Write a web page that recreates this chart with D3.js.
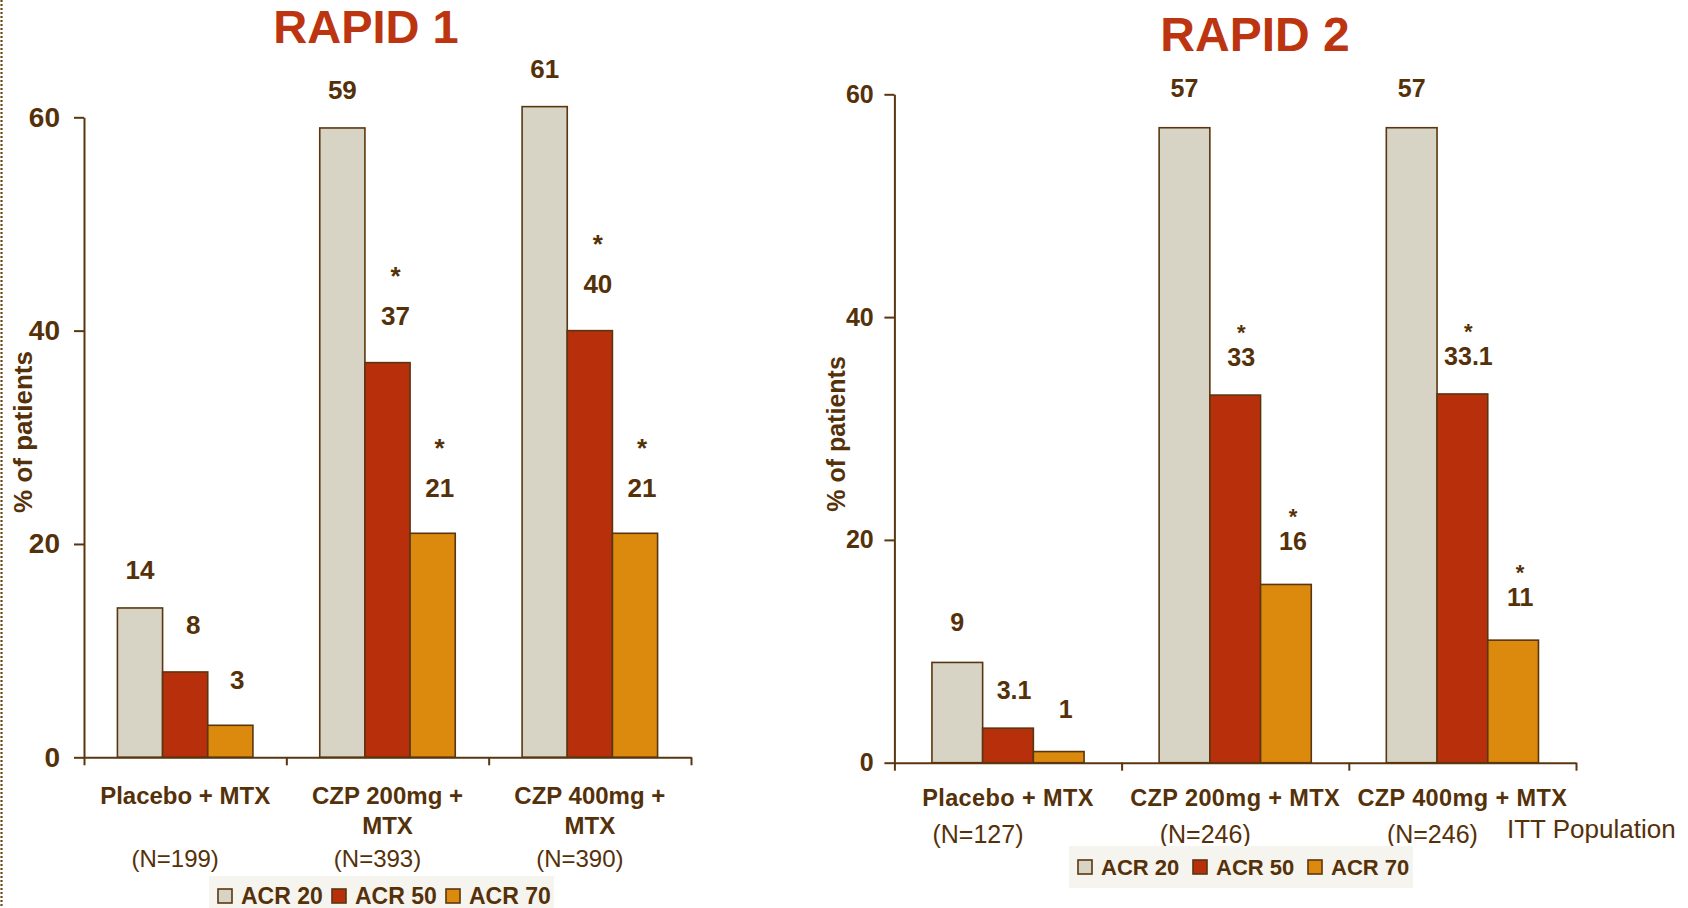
<!DOCTYPE html>
<html>
<head>
<meta charset="utf-8">
<script src="https://cdn.jsdelivr.net/npm/d3@7/dist/d3.min.js"></script>
<style>
  html, body { margin: 0; padding: 0; background: #ffffff; }
  svg { display: block; font-family: "Liberation Sans", Arial, sans-serif; }
</style>
</head>
<body>
<svg id="chart" width="1688" height="908"></svg>
<script>
// ---- data -------------------------------------------------------------
const series = ["ACR 20", "ACR 50", "ACR 70"];
const yTicks = [0, 20, 40, 60];

const rapid1Groups = ["Placebo + MTX", "CZP 200mg + MTX", "CZP 400mg + MTX"];
const rapid1GroupLines = [["Placebo + MTX"], ["CZP 200mg +", "MTX"], ["CZP 400mg +", "MTX"]];
const rapid1N = ["(N=199)", "(N=393)", "(N=390)"];
const rapid1ACR20 = [14, 59, 61];
const rapid1ACR50 = [8, 37, 40];
const rapid1ACR70 = [3, 21, 21];
const rapid1Sig50 = [false, true, true];
const rapid1Sig70 = [false, true, true];

const rapid2Groups = ["Placebo + MTX", "CZP 200mg + MTX", "CZP 400mg + MTX"];
const rapid2GroupLines = [["Placebo + MTX"], ["CZP 200mg + MTX"], ["CZP 400mg + MTX"]];
const rapid2N = ["(N=127)", "(N=246)", "(N=246)"];
const rapid2ACR20 = [9, 57, 57];
const rapid2ACR50 = [3.1, 33, 33.1];
const rapid2ACR70 = [1, 16, 11];
const rapid2Sig50 = [false, true, true];
const rapid2Sig70 = [false, true, true];

// ---- styling ----------------------------------------------------------
const TEXT = "#55310a";
const AXIS = "#5a3610";
const TITLE = "#bd3510";
const FILL = { "ACR 20": "#d7d3c5", "ACR 50": "#b8300b", "ACR 70": "#dc8a0e" };

const svg = d3.select("#chart");

// dotted rule along the left edge
svg.append("line")
  .attr("x1", 1.5).attr("x2", 1.5).attr("y1", 0).attr("y2", 908)
  .attr("stroke", "#6e4a1c").attr("stroke-width", 2.2)
  .attr("stroke-dasharray", "2,2");

function buildRows(groups, a20, a50, a70, s50, s70) {
  return groups.map((g, i) => ({
    group: g,
    bars: [
      { key: "ACR 20", value: a20[i], sig: false },
      { key: "ACR 50", value: a50[i], sig: s50[i] },
      { key: "ACR 70", value: a70[i], sig: s70[i] }
    ]
  }));
}

function drawChart(cfg) {
  const g = svg.append("g");

  const y = d3.scaleLinear().domain([0, 60]).range([cfg.y0, cfg.y60]);
  const x = d3.scaleBand().domain(cfg.groups).range([cfg.xLeft, cfg.xRight]).padding(0);
  const xs = d3.scaleBand().domain(series).range([0, x.bandwidth()])
    .paddingInner(0).paddingOuter(cfg.outerPad);

  // title
  g.append("text")
    .attr("x", cfg.titleX).attr("y", cfg.titleY)
    .attr("text-anchor", "middle")
    .attr("font-size", cfg.titleSize).attr("font-weight", "bold")
    .attr("fill", TITLE)
    .text(cfg.title);

  // bars
  const groupSel = g.selectAll("g.grp").data(cfg.rows).join("g")
    .attr("class", "grp")
    .attr("transform", d => `translate(${x(d.group)},0)`);

  groupSel.selectAll("rect").data(d => d.bars).join("rect")
    .attr("x", d => xs(d.key))
    .attr("width", xs.bandwidth())
    .attr("y", d => y(d.value))
    .attr("height", d => y(0) - y(d.value))
    .attr("fill", d => FILL[d.key])
    .attr("stroke", AXIS)
    .attr("stroke-width", 1.6);

  // value labels and significance marks
  const labelSel = groupSel.selectAll("g.lbl").data(d => d.bars).join("g")
    .attr("class", "lbl")
    .attr("transform", (d, i) =>
      `translate(${xs(d.key) + xs.bandwidth() / 2 + cfg.labelDx[i]},${y(d.value) - cfg.labelOff[i]})`);

  labelSel.append("text")
    .attr("text-anchor", "middle")
    .attr("font-size", cfg.valueSize).attr("font-weight", "bold")
    .attr("fill", TEXT)
    .text(d => String(d.value));

  labelSel.filter(d => d.sig).append("text")
    .attr("y", -cfg.starGap)
    .attr("text-anchor", "middle")
    .attr("font-size", cfg.starSize).attr("font-weight", "bold")
    .attr("fill", TEXT)
    .text("*");

  // y axis
  const yAxis = g.append("g")
    .attr("transform", `translate(${cfg.xLeft},0)`)
    .call(d3.axisLeft(y).tickValues(yTicks).tickSize(10).tickSizeOuter(0).tickPadding(cfg.tickPad));
  yAxis.select(".domain").attr("stroke", AXIS).attr("stroke-width", 2);
  yAxis.selectAll(".tick line").attr("stroke", AXIS).attr("stroke-width", 2);
  yAxis.selectAll(".tick text")
    .attr("font-size", cfg.tickSize).attr("font-weight", "bold")
    .attr("font-family", "Liberation Sans, Arial, sans-serif")
    .attr("fill", TEXT);

  // x axis with ticks at category boundaries
  const xb = d3.scaleLinear().domain([0, cfg.groups.length]).range([cfg.xLeft, cfg.xRight]);
  const xAxis = g.append("g")
    .attr("transform", `translate(0,${cfg.y0})`)
    .call(d3.axisBottom(xb).tickValues(d3.range(cfg.groups.length + 1))
      .tickSize(8).tickSizeOuter(0).tickFormat(""));
  xAxis.select(".domain").attr("stroke", AXIS).attr("stroke-width", 2);
  xAxis.selectAll(".tick line").attr("stroke", AXIS).attr("stroke-width", 2);

  // category labels
  cfg.groups.forEach((grp, i) => {
    const cx = x(grp) + x.bandwidth() / 2;
    cfg.groupLines[i].forEach((line, j) => {
      g.append("text")
        .attr("x", cx).attr("y", cfg.catY + j * cfg.catLine)
        .attr("text-anchor", "middle")
        .attr("font-size", cfg.catSize).attr("font-weight", "bold")
        .attr("letter-spacing", cfg.catSpacing)
        .attr("fill", TEXT)
        .text(line);
    });
    g.append("text")
      .attr("x", cx + cfg.nDx).attr("y", cfg.nY)
      .attr("text-anchor", "middle")
      .attr("font-size", cfg.nSize)
      .attr("fill", TEXT)
      .text(cfg.nLabels[i]);
  });

  // y axis title
  g.append("text")
    .attr("transform", `translate(${cfg.yTitleX},${cfg.yTitleY}) rotate(-90)`)
    .attr("text-anchor", "middle")
    .attr("font-size", cfg.yTitleSize).attr("font-weight", "bold")
    .attr("fill", TEXT)
    .text("% of patients");

  // legend
  const lg = g.append("g").attr("transform", `translate(${cfg.legX},${cfg.legY})`);
  lg.append("rect")
    .attr("x", 0).attr("y", 0)
    .attr("width", cfg.legW).attr("height", cfg.legH)
    .attr("fill", "#f6f4ef");
  const item = lg.selectAll("g.item").data(series).join("g")
    .attr("class", "item")
    .attr("transform", (d, i) => `translate(${cfg.legPad + i * cfg.legStep},${cfg.legSqY})`);
  item.append("rect")
    .attr("width", 14).attr("height", 14)
    .attr("fill", d => FILL[d])
    .attr("stroke", AXIS).attr("stroke-width", 1.6);
  item.append("text")
    .attr("x", 23).attr("y", 15)
    .attr("font-size", cfg.legSize).attr("font-weight", "bold")
    .attr("fill", TEXT)
    .text(d => d);

  return g;
}

drawChart({
  title: "RAPID 1", titleX: 366, titleY: 43, titleSize: 47,
  groups: rapid1Groups, groupLines: rapid1GroupLines, nLabels: rapid1N,
  rows: buildRows(rapid1Groups, rapid1ACR20, rapid1ACR50, rapid1ACR70, rapid1Sig50, rapid1Sig70),
  xLeft: 84, xRight: 691, y0: 757.3, y60: 117.3, outerPad: 0.74,
  tickSize: 28, tickPad: 14,
  valueSize: 26, labelOff: [29, 38, 36], labelDx: [0, 8, 7], starGap: 40, starSize: 26,
  catSize: 24, catY: 804, catLine: 30, catSpacing: 0,
  nSize: 24, nY: 867, nDx: -10,
  yTitleX: 32, yTitleY: 432, yTitleSize: 26,
  legX: 209, legY: 876, legW: 345, legH: 40, legPad: 9, legStep: 114, legSqY: 13, legSize: 23
});

const right = drawChart({
  title: "RAPID 2", titleX: 1255, titleY: 51, titleSize: 48,
  groups: rapid2Groups, groupLines: rapid2GroupLines, nLabels: rapid2N,
  rows: buildRows(rapid2Groups, rapid2ACR20, rapid2ACR50, rapid2ACR70, rapid2Sig50, rapid2Sig70),
  xLeft: 894.4, xRight: 1576, y0: 762.7, y60: 94.3, outerPad: 0.74,
  tickSize: 25, tickPad: 10.7,
  valueSize: 25, labelOff: [31, 29, 34], labelDx: [0, 6, 7], starGap: 26, starSize: 22,
  catSize: 23.5, catY: 806, catLine: 30, catSpacing: 0.4,
  nSize: 25, nY: 843, nDx: -30,
  yTitleX: 845, yTitleY: 434, yTitleSize: 25,
  legX: 1069, legY: 846, legW: 344, legH: 42, legPad: 9, legStep: 115, legSqY: 14, legSize: 22
});

right.append("text")
  .attr("x", 1507).attr("y", 838)
  .attr("font-size", 26)
  .attr("fill", TEXT)
  .text("ITT Population");
</script>
</body>
</html>
